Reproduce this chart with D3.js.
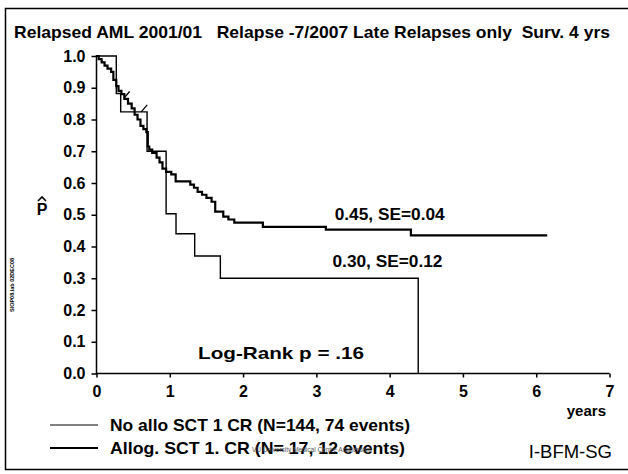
<!DOCTYPE html>
<html>
<head>
<meta charset="utf-8">
<script src="https://cdn.jsdelivr.net/npm/d3@7"></script>
<style>
  body { margin: 0; background: #fff; }
  svg { display: block; }
  text { font-family: "Liberation Sans", Arial, sans-serif; }
</style>
</head>
<body>
<div class="Graph"></div>
<script>
// data
const yearTicks = [0, 1, 2, 3, 4, 5, 6, 7];
const probTicks = [0.0, 0.1, 0.2, 0.3, 0.4, 0.5, 0.6, 0.7, 0.8, 0.9, 1.0];

// No allo SCT 1 CR (N=144) - step points (time, surv)
const noAlloT = [0, 0.03, 0.07, 0.11, 0.15, 0.20, 0.23, 0.27, 0.30, 0.34, 0.38, 0.43, 0.48, 0.52, 0.56, 0.60, 0.64, 0.68, 0.70, 0.72, 0.76, 0.82, 0.86, 0.90, 0.95, 1.02, 1.08, 1.28, 1.33, 1.38, 1.44, 1.50, 1.57, 1.62, 1.73, 1.80, 1.88, 2.27, 3.13, 4.29, 6.15];
const noAlloS = [1, 0.99, 0.98, 0.97, 0.96, 0.95, 0.925, 0.905, 0.89, 0.88, 0.865, 0.85, 0.835, 0.815, 0.80, 0.78, 0.77, 0.76, 0.715, 0.705, 0.695, 0.68, 0.665, 0.645, 0.635, 0.627, 0.605, 0.595, 0.585, 0.572, 0.563, 0.553, 0.541, 0.51, 0.494, 0.485, 0.475, 0.462, 0.453, 0.435, 0.435];

// Allog. SCT 1. CR (N=17)
const allogT = [0, 0.27, 0.33, 0.69, 0.95, 1.085, 1.34, 1.69, 4.39, 4.39];
const allogS = [1, 0.882, 0.824, 0.70, 0.503, 0.44, 0.37, 0.30, 0.0, 0.0];

// censored marks
const censT = [0.37, 0.61];
const censS = [0.866, 0.824];

const labels = [
  { t: 3.25, s: 0.485, txt: "0.45, SE=0.04" },
  { t: 3.22, s: 0.335, txt: "0.30, SE=0.12" }
];
const legendNames = ["No allo SCT 1 CR (N=144, 74 events)", "Allog. SCT 1. CR (N= 17, 12 events)"];

const W = 628, H = 474;
const svg = d3.select(".Graph").append("svg")
  .attr("width", W).attr("height", H);

// frame
svg.append("path")
  .attr("d", "M628,8.5 H5.5 V469.5 H628")
  .attr("fill", "none").attr("stroke", "#000").attr("stroke-width", 1.5);

// title
svg.append("text")
  .attr("x", 14).attr("y", 38)
  .attr("xml:space", "preserve")
  .attr("textLength", 596).attr("lengthAdjust", "spacingAndGlyphs")
  .style("font-size", "17px").style("font-weight", "bold")
  .text("Relapsed AML 2001/01   Relapse -7/2007 Late Relapses only  Surv. 4 yrs");

let x = d3.scaleLinear().domain([0, 7]).range([96.5, 609.5]);
let y = d3.scaleLinear().domain([0, 1]).range([373.5, 56]);

// y axis
let gy = svg.append("g").attr("transform", "translate(" + x(0) + ",0)")
  .call(d3.axisLeft(y).tickValues(probTicks).tickSize(5).tickFormat(d3.format(".1f")));
gy.select(".domain").attr("stroke-width", 1.5).attr("d", "M0," + (y(1) - 1) + "V" + (y(0) + 1));
gy.selectAll(".tick line").attr("stroke-width", 1.5);
gy.selectAll(".tick text")
  .attr("x", -11)
  .style("font-size", "16px").style("font-weight", "bold")
  .style("font-family", "'Liberation Sans', Arial, sans-serif").attr("fill", "#000");

// x axis
let gx = svg.append("g").attr("transform", "translate(0," + y(0) + ")")
  .call(d3.axisBottom(x).tickValues(yearTicks).tickSize(4).tickFormat(d3.format("d")));
gx.select(".domain").attr("stroke-width", 1.5).attr("d", "M" + x(0) + ",0H" + x(7));
gx.selectAll(".tick line").attr("stroke-width", 1.5);
gx.selectAll(".tick text")
  .attr("y", 12)
  .style("font-size", "16px").style("font-weight", "bold")
  .style("font-family", "'Liberation Sans', Arial, sans-serif").attr("fill", "#000");

svg.append("text").attr("x", 606).attr("y", 416).attr("text-anchor", "end")
  .style("font-size", "15px").style("font-weight", "bold").text("years");

// y label P-hat
svg.append("text").attr("x", 42).attr("y", 215).attr("text-anchor", "middle")
  .style("font-size", "16px").style("font-weight", "bold").text("P");
svg.append("path").attr("d", "M38,201 L42,197 L46,201")
  .attr("fill", "none").attr("stroke", "#000").attr("stroke-width", 1.6);

// side note
svg.append("text")
  .attr("transform", "translate(14,285) rotate(-90)")
  .attr("text-anchor", "middle")
  .style("font-size", "5.5px").style("font-weight", "bold")
  .text("SIOP08.lab 02DEC08");

// curves
let stepLine = d3.line().curve(d3.curveStepAfter)
  .x(d => x(d[0])).y(d => y(d[1]));

svg.append("path")
  .datum(noAlloT.map((t, i) => [t, noAlloS[i]]))
  .attr("d", stepLine)
  .attr("fill", "none").attr("stroke", "#000").attr("stroke-width", 2.2);

svg.append("path")
  .datum(allogT.map((t, i) => [t, allogS[i]]))
  .attr("d", stepLine)
  .attr("fill", "none").attr("stroke", "#000").attr("stroke-width", 1.4);

svg.selectAll(".cens")
  .data(censT)
  .enter()
  .append("line")
  .attr("class", "cens")
  .attr("x1", (d, i) => x(d)).attr("y1", (d, i) => y(censS[i]))
  .attr("x2", (d, i) => x(d) + 6).attr("y2", (d, i) => y(censS[i]) - 7)
  .attr("stroke", "#000").attr("stroke-width", 1.3);

// estimate labels
svg.selectAll(".est")
  .data(labels)
  .enter()
  .append("text")
  .attr("class", "est")
  .attr("x", d => x(d.t)).attr("y", d => y(d.s))
  .attr("textLength", 110).attr("lengthAdjust", "spacingAndGlyphs")
  .style("font-size", "16.5px").style("font-weight", "bold")
  .text(d => d.txt);

svg.append("text").attr("x", 198).attr("y", 359)
  .attr("textLength", 166).attr("lengthAdjust", "spacingAndGlyphs")
  .style("font-size", "17px").style("font-weight", "bold")
  .text("Log-Rank p = .16");

// legend
legendNames.forEach((nm, i) => {
  let ly = 425 + i * 23;
  svg.append("line").attr("x1", 50).attr("x2", 98).attr("y1", ly).attr("y2", ly)
    .attr("stroke", "#000").attr("stroke-width", i == 0 ? 1 : 2);
  svg.append("text").attr("x", 110).attr("y", ly + 6)
    .attr("textLength", i == 0 ? 300 : 295).attr("lengthAdjust", "spacingAndGlyphs")
    .style("font-size", "17px").style("font-weight", "bold")
    .text(nm);
});

svg.append("text").attr("x", 252).attr("y", 452)
  .style("font-size", "6.5px").attr("fill", "#555")
  .text("VU University Medical Centre Amsterdam");

svg.append("text").attr("x", 612).attr("y", 458).attr("text-anchor", "end")
  .style("font-size", "18.5px")
  .text("I-BFM-SG");
</script>
</body>
</html>
